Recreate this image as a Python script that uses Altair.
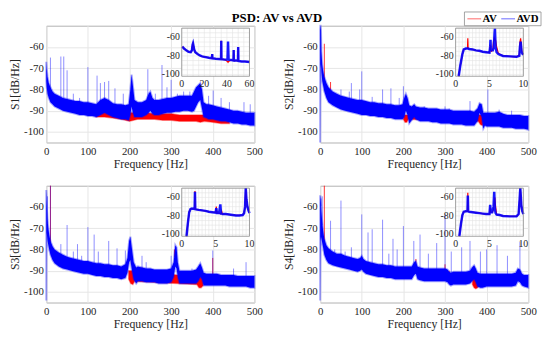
import altair as alt
import numpy as np
import pandas as pd

FONT = "Liberation Serif"
BLUE = "#0000ff"
RED = "#ff0000"
W, H = 212, 119
IN_XR = [138, 207]
IN_YR = [51.5, 2.5]
IN_YDOM = [-102, -50]

X_TICKS = [0, 100, 200, 300, 400, 500]
Y_TICKS = [-100, -90, -80, -70, -60]
INSET_Y_TICKS = [-100, -80, -60]
P1_INSET_X_TICKS = [0, 20, 40, 60]
P_INSET_X_TICKS = [0, 5, 10]
P1_INSET_XGRID = [0, 5, 10, 15, 20, 25, 30, 35, 40, 45, 50, 55, 60]
P_INSET_XGRID = [0, 0.5, 1, 1.5, 2, 2.5, 3, 3.5, 4, 4.5, 5, 5.5, 6, 6.5, 7, 7.5, 8, 8.5, 9, 9.5, 10]
INSET_YGRID = [-100, -95, -90, -85, -80, -75, -70, -65, -60, -55, -50]

# ---------------- S1 ----------------
P1_F = [0, 1, 3, 6, 10, 15, 20, 30, 40, 50, 60, 70, 80, 90, 100, 110, 120, 130, 140, 150, 160, 170, 180, 190,
        198, 202, 205, 208, 212, 220, 230, 240, 246, 250, 255, 260, 270, 280, 290, 300, 310, 320, 330, 340, 350,
        355, 360, 365, 370, 374, 378, 385, 390, 400, 410, 420, 430, 440, 450, 460, 470, 480, 490, 500]
P1_HI = [-67, -70, -74, -77, -79, -81, -82, -83, -84, -84.5, -85, -85.5, -85.5, -86, -86, -86.5, -87, -85, -84, -85,
         -86.5, -87, -87, -87.5, -87, -80, -73, -78, -85, -86, -86, -85, -82, -81, -84, -85, -85, -84.5, -84, -84,
         -83.5, -83, -83, -83, -83, -81, -79, -78, -77, -80, -86, -87, -87, -87.5, -88, -88.5, -89, -89.5, -90, -90,
         -90.5, -91, -91, -91]
P1_LO = [-76, -79, -82, -84, -86, -87, -88, -89, -90, -90.5, -91, -91.5, -92, -92, -92.5, -92.5, -93, -92, -91, -92,
         -93, -93.5, -94, -94, -94.5, -92, -88, -91, -93, -93, -93, -92, -91, -90, -91.5, -92, -92, -91.5, -91, -91,
         -90.5, -90.5, -90, -90, -90.5, -90, -88, -86, -85, -89, -93, -93.5, -94, -94, -94.5, -95, -95, -95.5, -96,
         -96, -96.5, -96.5, -97, -97]
P1_RED_F = [120, 140, 160, 180, 200, 220, 240, 260, 280, 300, 320, 340, 350, 360, 370, 380, 400, 420, 440]
P1_RED_HI = [-90, -90, -90.5, -91, -91, -91, -91, -91.5, -91.5, -91.5, -92, -92, -92, -92, -92, -92, -93, -93, -93]
P1_RED_LO = [-93, -93, -93.5, -94, -95, -94, -94, -94, -94.5, -94.5, -95, -95, -95, -95, -95.5, -95, -95.5, -96, -96]
P1_SPK_F = [10, 35, 42, 50, 65, 80, 100, 122, 130, 140, 150, 165, 185, 244, 262, 278, 290, 300, 315, 330, 345,
            362, 390, 401, 420, 440, 475, 490]
P1_SPK_DB = [-65, -64.5, -64.5, -71, -82, -84, -69.5, -73.5, -77, -76.5, -76, -79.5, -82, -70.5, -82, -68.5, -79,
             -75.5, -82, -81, -81, -80, -83, -80.5, -84, -86, -86, -87]
P1_RSPK_F = [250, 370]
P1_RSPK_DB = [-86, -84]
P1_IN_F = [0.5, 2, 4, 6, 8, 9, 9.6, 10, 10.4, 11, 12, 14, 16, 18, 20, 24, 26.8, 27, 27.2, 30, 34.8, 35, 35.2, 38,
           40.5, 41, 41.5, 44, 45.8, 46, 46.2, 49.8, 50, 50.2, 53, 56, 60]
P1_IN_BLUE = [-70, -72, -74, -75.5, -76, -74, -68, -66.5, -69, -73, -76, -78, -79.5, -80.5, -81, -82, -82.5, -78,
              -82.5, -83, -83.5, -63.5, -83.5, -84, -84, -64.5, -84, -84.5, -85, -73.5, -85, -85, -70.5, -85.5, -86,
              -86, -86.5]
P1_IN_RED = [-70, -72, -74, -75.5, -76, -74, -68, -66.5, -69, -73, -76, -78, -79.5, -80.5, -81, -82, -82.5, -78,
             -82.5, -83, -83.5, -63.5, -83.5, -84, -86, -87, -86, -84.5, -85, -73.5, -85, -85, -70.5, -85.5, -86,
             -86, -86.5]

# ---------------- S2 ----------------
P2_F = [0, 0.5, 1, 2, 3, 5, 7, 10, 15, 20, 30, 40, 50, 60, 70, 80, 90, 100, 110, 120, 130, 140, 150, 160, 170, 180,
        190, 198, 202, 206, 210, 214, 220, 226, 230, 240, 250, 260, 270, 280, 290, 300, 310, 320, 330, 340, 350, 360,
        370, 378, 383, 388, 392, 396, 400, 410, 420, 430, 440, 450, 460, 470, 480, 490, 500]
P2_HI = [-52, -50, -50, -52, -62, -68, -71, -74, -77, -79, -81, -82, -83, -83.5, -84, -84.5, -85, -85, -85.5, -86,
         -86, -86.5, -86.5, -87, -87, -87.5, -87.5, -87, -84, -82, -84, -87.5, -88, -87, -88, -88.5, -88.5, -89, -89,
         -89, -89.5, -89.5, -89.5, -90, -90, -90, -90, -90, -90.5, -89, -86.5, -87, -91, -91, -91, -91, -91, -90.5,
         -91.5, -92, -92, -92, -92, -92.5, -92.5]
P2_LO = [-105, -80, -70, -68, -72, -76, -78, -81, -84, -86, -87.5, -88.5, -89.5, -90, -90.5, -91, -91.5, -92, -92,
         -92.5, -92.5, -93, -93, -93.5, -93.5, -94, -94, -94, -93, -90, -92, -96, -94.5, -93, -94, -95, -95, -95,
         -95.5, -95.5, -96, -96, -96, -96.5, -96.5, -96.5, -97, -97, -97, -95, -91, -93, -98.5, -97, -97.5, -97.5,
         -97.5, -97.5, -98, -98, -98, -98.5, -98.5, -98.5, -99]
P2_RED_F = [200, 204, 208, 212, 380, 385, 390, 394]
P2_RED_HI = [-92, -92, -92, -92, -92, -92, -92, -92]
P2_RED_LO = [-94, -95.5, -95.5, -94, -95, -96.5, -97, -95]
P2_SPK_F = [25, 50, 65, 70, 75, 95, 100, 125, 150, 170, 190, 200, 250, 300, 310, 360, 403, 430, 460]
P2_SPK_DB = [-82, -80, -84, -81, -77, -80, -71.5, -83.5, -80, -79.5, -84, -78.5, -88, -88, -89, -85.5, -80, -89.5,
             -90]
P2_RSPK_F = [10, 25, 40, 95, 125, 228, 360]
P2_RSPK_DB = [-58.5, -76.5, -84, -88, -88, -88.5, -90]
P2_IN_F = [0.45, 0.7, 1.0, 1.2, 1.5, 1.75, 1.8, 1.85, 2.0, 2.5, 3.0, 3.5, 4.0, 4.5, 5.0, 5.1, 5.15, 5.2, 5.3, 5.5,
           5.6, 5.7, 5.75, 5.8, 5.9, 6.05, 6.3, 7.0, 8.0, 9.0, 9.4, 9.5, 9.6, 9.75, 9.9, 10]
P2_IN_BLUE = [-102, -90, -78, -73, -72, -72, -72, -72, -72.5, -73, -74, -74.5, -75.5, -76, -76.5, -70, -62.5, -72,
              -74, -74, -72, -62, -55, -50.5, -70, -76, -78, -80, -80.5, -81, -80, -70, -64.5, -76, -78, -78.5]
P2_IN_RED = [-102, -90, -78, -73, -72, -72, -61, -72, -72.5, -73, -74, -74.5, -75.5, -76, -76.5, -68, -72, -74, -75,
             -73, -64, -63, -61, -62, -63, -70, -77, -80, -80.5, -81, -79, -65, -61, -74, -78, -78.5]

# ---------------- S3 ----------------
P3_F = [0, 0.5, 1, 2, 3, 5, 7, 10, 15, 20, 30, 40, 50, 60, 70, 80, 90, 100, 110, 120, 130, 140, 150, 160, 170, 180,
        190, 195, 199, 202, 206, 210, 216, 220, 230, 240, 250, 260, 270, 280, 290, 300, 306, 310, 313, 316, 320, 330,
        340, 350, 360, 365, 370, 374, 378, 385, 390, 400, 410, 420, 430, 440, 450, 460, 470, 480, 490, 500]
P3_HI = [-52, -54, -57, -62, -66, -70, -73, -76, -78.5, -80, -81.5, -82.5, -83.5, -84, -84.5, -85, -85.5, -85.5, -86,
         -86.5, -86.5, -87, -87, -87.5, -87.5, -88, -87, -84, -76, -74, -80, -86, -88.5, -88, -88.5, -89, -89, -89.5,
         -89.5, -89.5, -89.5, -89, -86, -78, -79, -86, -90, -90, -90, -90, -89.5, -88, -86.5, -88.5, -91, -91.5,
         -91.5, -91.5, -91.5, -92, -92, -92, -92, -92.5, -92.5, -92.5, -92.5, -92.5]
P3_LO = [-104, -80, -72, -74, -76, -78, -80, -82.5, -85, -86.5, -88, -89, -89.5, -90, -90.5, -91, -91.5, -91.5, -92,
         -92.5, -92.5, -93, -93, -93.5, -93.5, -94, -93.5, -91, -86, -85, -90, -94, -96, -95, -95, -95.5, -95.5,
         -95.5, -96, -96, -96, -95.5, -93, -88, -89, -93, -96, -96, -96, -96, -96, -95, -93, -94, -97, -97, -97, -97,
         -97, -97, -97, -97.5, -97.5, -97.5, -97.5, -97.5, -98, -98]
P3_RED_F = [198, 203, 208, 212, 362, 367, 372, 377]
P3_RED_HI = [-90, -90, -90, -90, -93, -93, -93, -93]
P3_RED_LO = [-94, -96, -96.5, -95, -96.5, -98, -98, -97]
P3_SPK_F = [3, 10, 35, 50, 65, 75, 85, 100, 115, 125, 150, 170, 190, 230, 240, 300, 350, 400, 450, 480]
P3_SPK_DB = [-55, -50, -77.5, -68.5, -81, -77.5, -83, -69.5, -73, -81, -76, -79.5, -80.5, -83, -86, -83, -89, -80.5,
             -89, -86]
P3_RSPK_F = [10, 230, 308, 400]
P3_RSPK_DB = [-50, -88.5, -80, -84]
P3_IN_F = [0.7, 0.9, 1.1, 1.3, 1.5, 1.9, 1.95, 2.0, 2.1, 2.5, 3, 3.5, 4, 4.5, 5.0, 5.1, 5.2, 5.5, 5.7, 5.8, 5.9,
           6.0, 6.5, 7, 7.5, 8, 8.5, 9, 9.2, 9.35, 9.45, 9.55, 9.7, 9.85, 10]
P3_IN_BLUE = [-102, -88, -76, -72.5, -72, -72.5, -54, -72.5, -73, -73.5, -74, -74.5, -75.5, -76, -76.5, -71.5, -77,
              -77, -67.5, -77.5, -77.5, -78, -78, -78.5, -79, -79.5, -79.5, -79, -77, -70, -50, -62, -70, -74, -77]
P3_IN_RED = [-102, -88, -76, -72.5, -72, -72.5, -53, -72.5, -73, -73.5, -74, -74.5, -75.5, -76, -76.5, -70, -77,
             -77, -77.5, -77.5, -75, -78, -78, -78.5, -79, -79.5, -79.5, -79, -77, -70, -50, -62, -70, -74, -77]

# ---------------- S4 ----------------
P4_F = [0, 0.5, 1, 2, 3, 5, 7, 10, 15, 20, 30, 40, 50, 60, 70, 80, 90, 96, 100, 104, 110, 120, 130, 140, 150, 160,
        170, 180, 190, 200, 210, 220, 226, 230, 234, 240, 250, 260, 270, 280, 290, 300, 306, 310, 314, 320, 330,
        340, 350, 360, 365, 370, 374, 378, 385, 390, 400, 410, 420, 430, 440, 450, 460, 470, 475, 480, 485, 490, 500]
P4_HI = [-55, -55, -56, -58, -62, -67, -71, -75, -78, -79.5, -81, -82, -82, -83, -83.5, -84, -84.5, -84, -83, -84.5,
         -85.5, -86, -86.5, -87, -87, -87.5, -87.5, -88, -88, -88, -88, -88, -86, -85.5, -88, -88.5, -89, -89, -89,
         -89, -89, -89, -89.5, -90.5, -91, -90.5, -90.5, -90.5, -90.5, -90, -88.5, -87.5, -89, -91, -91.5, -91.5,
         -91.5, -91.5, -91.5, -91.5, -91.5, -91.5, -91.5, -91, -89, -89.5, -91.5, -92, -92]
P4_LO = [-104, -85, -76, -74, -75, -77, -79, -82.5, -85, -86.5, -87.5, -88, -88.5, -89, -89.5, -90, -90.5, -90,
         -89.5, -90.5, -91.5, -92, -92.5, -93, -93, -93.5, -93.5, -94, -94, -94, -94, -94, -92, -91.5, -94, -94.5,
         -95, -95, -95, -95, -95, -95, -95.5, -96.5, -97, -96.5, -96.5, -96.5, -96.5, -96, -95, -94, -95.5, -97.5,
         -98, -98, -97.5, -97.5, -97.5, -97.5, -97.5, -97.5, -97.5, -97, -95, -95.5, -97, -97.5, -98]
P4_RED_F = [366, 370, 374, 378, 382]
P4_RED_HI = [-92, -92, -92, -92, -92]
P4_RED_LO = [-96.5, -98, -98.5, -98, -97]
P4_SPK_F = [2, 5, 25, 35, 50, 60, 75, 100, 115, 125, 150, 165, 175, 185, 200, 225, 240, 260, 280, 300, 315, 340,
            360, 385, 400, 425, 450, 480]
P4_SPK_DB = [-56, -55, -66.5, -80, -57, -81, -79, -63.5, -72, -70.5, -66, -82, -75, -80, -69, -76, -73, -82, -77,
             -63.5, -81, -79, -76, -81, -80, -78, -83, -76.5]
P4_RSPK_F = [10, 125, 200, 230, 300, 310, 410, 475]
P4_RSPK_DB = [-50, -91, -90, -84.5, -87, -90, -93, -92]
P4_IN_F = [0.55, 0.8, 1.0, 1.2, 1.5, 1.75, 1.8, 1.85, 2.0, 2.5, 3.0, 3.5, 4.0, 4.5, 5.0, 5.1, 5.2, 5.4, 5.6, 5.7,
           5.8, 5.9, 6.05, 6.5, 7.0, 8.0, 9.0, 9.3, 9.45, 9.55, 9.7, 9.85, 10]
P4_IN_BLUE = [-102, -88, -79, -75.5, -75, -75, -58, -75, -75.5, -76, -76.5, -77, -77.5, -78, -78, -68, -76, -76,
              -70, -54, -72, -77, -78.5, -79, -80, -80.5, -80.5, -78, -62, -50, -68, -75, -78]
P4_IN_RED = [-102, -88, -79, -75.5, -75, -75, -55, -75, -75.5, -76, -76.5, -77, -77.5, -78, -78, -71, -76, -76,
             -73, -66, -60, -70, -78.5, -79, -80, -80.5, -80.5, -78, -62, -50, -68, -75, -78]

ONE = pd.DataFrame({"k": [0]})


def panel(ylabel, f, hi, lo, rf, rhi, rlo, sf, sdb, rsf, rsdb, inf, inb, inr, in_xmax, in_xticks, in_xgrid, extras):
    xs = alt.Scale(domain=[0, 500], nice=False, zero=False)
    ys = alt.Scale(domain=[-105, -50], nice=False, zero=False)
    xax = alt.Axis(values=X_TICKS, title="Frequency [Hz]", grid=True, gridColor="#e6e6e6", domain=False,
                   ticks=False, tickSize=0, labelFlush=False, labelFont=FONT, labelFontSize=11, labelPadding=3,
                   labelColor="#262626", titleFont=FONT, titleFontSize=12, titleFontWeight="normal",
                   titleColor="#262626", titlePadding=2)
    yax = alt.Axis(values=Y_TICKS, title=ylabel, grid=True, gridColor="#e6e6e6", domain=False, ticks=False,
                   tickSize=0, labelFlush=False, labelExpr="datum.value + ''", labelFont=FONT, labelFontSize=11,
                   labelPadding=3, labelColor="#262626", titleFont=FONT, titleFontSize=12,
                   titleFontWeight="normal", titleColor="#262626", titlePadding=2)
    band = pd.DataFrame({"f": f, "hi": hi, "lo": lo})
    red = pd.DataFrame({"f": rf, "hi": rhi, "lo": rlo})
    # spikes start just inside the band (band top at that frequency)
    spk = pd.DataFrame({"f": sf, "db": sdb, "base": np.interp(sf, f, hi) - 1.5})
    rspk = pd.DataFrame({"f": rsf, "db": rsdb, "base": np.interp(rsf, f, hi) - 1.5})

    def X():
        return alt.X("f:Q", scale=xs, axis=xax)

    red_band = alt.Chart(red).mark_area(color=RED, stroke=RED, strokeOpacity=0.4, strokeWidth=1.5).encode(
        x=X(), y=alt.Y("hi:Q", scale=ys, axis=yax), y2="lo:Q")
    red_spk = alt.Chart(rspk).mark_rule(color=RED, strokeWidth=1, opacity=0.8).encode(
        x=X(), y=alt.Y("db:Q", scale=ys, axis=yax), y2="base:Q")
    blue_spk = alt.Chart(spk).mark_rule(color=BLUE, strokeWidth=1, opacity=0.45).encode(
        x=X(), y=alt.Y("db:Q", scale=ys, axis=yax), y2="base:Q")
    blue_band = alt.Chart(band).mark_area(color=BLUE, fillOpacity=1, stroke=BLUE, strokeOpacity=0.35,
                                          strokeWidth=2).encode(
        x=X(), y=alt.Y("hi:Q", scale=ys, axis=yax), y2="lo:Q")
    main = alt.layer(red_band, red_spk, blue_spk, blue_band)

    xsi = alt.Scale(domain=[0, in_xmax], range=IN_XR, nice=False, zero=False)
    ysi = alt.Scale(domain=IN_YDOM, range=IN_YR, nice=False, zero=False)
    bg = alt.Chart(ONE).mark_rect(fill="white").encode(
        x=alt.value(IN_XR[0]), x2=alt.value(IN_XR[1]), y=alt.value(IN_YR[1]), y2=alt.value(IN_YR[0]))
    vgrid = alt.Chart(pd.DataFrame({"g": in_xgrid})).mark_rule(color="#e3e3e3", strokeWidth=0.6).encode(
        x=alt.X("g:Q", scale=xsi, axis=None), y=alt.value(IN_YR[1]), y2=alt.value(IN_YR[0]))
    hgrid = alt.Chart(pd.DataFrame({"g": INSET_YGRID})).mark_rule(color="#e3e3e3", strokeWidth=0.6).encode(
        y=alt.Y("g:Q", scale=ysi, axis=None), x=alt.value(IN_XR[0]), x2=alt.value(IN_XR[1]))
    ins = pd.DataFrame({"f": inf, "b": inb, "r": inr})
    rline = alt.Chart(ins).mark_line(color=RED, strokeWidth=1.2).encode(
        x=alt.X("f:Q", scale=xsi, axis=None), y=alt.Y("r:Q", scale=ysi, axis=None))
    bline = alt.Chart(ins).mark_line(color=BLUE, strokeWidth=2.5, opacity=0.9).encode(
        x=alt.X("f:Q", scale=xsi, axis=None), y=alt.Y("b:Q", scale=ysi, axis=None))
    frame = alt.Chart(ONE).mark_rect(fillOpacity=0, stroke="#8c8c8c", strokeWidth=0.8).encode(
        x=alt.value(IN_XR[0]), x2=alt.value(IN_XR[1]), y=alt.value(IN_YR[1]), y2=alt.value(IN_YR[0]))
    xl = alt.Chart(pd.DataFrame({"t": in_xticks, "lab": [str(t) for t in in_xticks]})).mark_text(
        font=FONT, fontSize=10, baseline="top", color="#262626").encode(
        x=alt.X("t:Q", scale=xsi, axis=None), y=alt.value(IN_YR[0] + 3), text="lab:N")
    yl = alt.Chart(pd.DataFrame({"t": INSET_Y_TICKS, "lab": [str(t) for t in INSET_Y_TICKS]})).mark_text(
        font=FONT, fontSize=10, align="right", baseline="middle", color="#262626").encode(
        y=alt.Y("t:Q", scale=ysi, axis=None), x=alt.value(IN_XR[0] - 2), text="lab:N")
    inset = alt.layer(bg, vgrid, hgrid, rline, bline, frame, xl, yl)

    return alt.layer(main, inset, *extras).resolve_scale(x="independent", y="independent").properties(
        width=W, height=H)


title = alt.Chart(ONE).mark_text(text="PSD: AV vs AVD", font=FONT, fontSize=13, fontWeight="bold",
                                 align="center", baseline="middle", color="black").encode(
    x=alt.value(235), y=alt.value(-8))

LEG_Y = -7
legend = [
    alt.Chart(ONE).mark_rect(fill="white", stroke="#8c8c8c", strokeWidth=0.8).encode(
        x=alt.value(147), x2=alt.value(225), y=alt.value(-14), y2=alt.value(0)),
    alt.Chart(ONE).mark_rule(color=RED, strokeWidth=1, opacity=0.6).encode(
        x=alt.value(150), x2=alt.value(164), y=alt.value(LEG_Y)),
    alt.Chart(ONE).mark_text(text="AV", font=FONT, fontSize=11, fontWeight="bold", align="left",
                             baseline="middle", color="black").encode(x=alt.value(165.5), y=alt.value(LEG_Y)),
    alt.Chart(ONE).mark_rule(color=BLUE, strokeWidth=1, opacity=0.6).encode(
        x=alt.value(184.5), x2=alt.value(198.5), y=alt.value(LEG_Y)),
    alt.Chart(ONE).mark_text(text="AVD", font=FONT, fontSize=11, fontWeight="bold", align="left",
                             baseline="middle", color="black").encode(x=alt.value(200), y=alt.value(LEG_Y)),
]

p1 = panel("S1[dB/Hz]", P1_F, P1_HI, P1_LO, P1_RED_F, P1_RED_HI, P1_RED_LO, P1_SPK_F, P1_SPK_DB, P1_RSPK_F,
           P1_RSPK_DB, P1_IN_F, P1_IN_BLUE, P1_IN_RED, 60, P1_INSET_X_TICKS, P1_INSET_XGRID, [title])
p2 = panel("S2[dB/Hz]", P2_F, P2_HI, P2_LO, P2_RED_F, P2_RED_HI, P2_RED_LO, P2_SPK_F, P2_SPK_DB, P2_RSPK_F,
           P2_RSPK_DB, P2_IN_F, P2_IN_BLUE, P2_IN_RED, 10, P_INSET_X_TICKS, P_INSET_XGRID, legend)
p3 = panel("S3[dB/Hz]", P3_F, P3_HI, P3_LO, P3_RED_F, P3_RED_HI, P3_RED_LO, P3_SPK_F, P3_SPK_DB, P3_RSPK_F,
           P3_RSPK_DB, P3_IN_F, P3_IN_BLUE, P3_IN_RED, 10, P_INSET_X_TICKS, P_INSET_XGRID, [])
p4 = panel("S4[dB/Hz]", P4_F, P4_HI, P4_LO, P4_RED_F, P4_RED_HI, P4_RED_LO, P4_SPK_F, P4_SPK_DB, P4_RSPK_F,
           P4_RSPK_DB, P4_IN_F, P4_IN_BLUE, P4_IN_RED, 10, P_INSET_X_TICKS, P_INSET_XGRID, [])

chart = alt.concat(p1, p2, p3, p4, columns=2, spacing={"row": 44, "column": 67}, bounds="flush").properties(
    padding={"left": 0, "top": 0, "right": 0, "bottom": 0}, background="white"
).configure_view(stroke="#b0b0b0", strokeWidth=1)

chart.save("out.html", embed_options={"renderer": "svg", "actions": False})
